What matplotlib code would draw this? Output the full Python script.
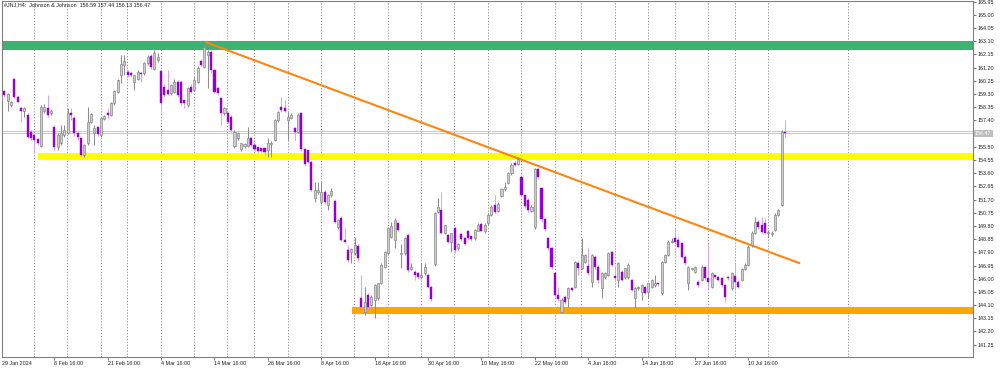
#!/usr/bin/env python

import matplotlib as mpl
mpl.use('Agg')
import matplotlib.pyplot as plt
import matplotlib.transforms as mtransforms
import numpy as np

# JNJ H4 candles (bar 0 = 29 Jan 2024)
opens = [158.9, 159.5, 158.8, 158.5, 160.36, 159.11, 158.32, 158.08, 157.79, 156.59,
         156.35, 156.04, 155.56, 158.1, 158.3, 157.9, 156.95, 155.51, 155.75, 156.35,
         156.47, 157.96, 157.55, 156.47, 156.11, 154.91, 155.75, 157.31, 156.47, 156.9,
         156.35, 157.5, 157.96, 157.79, 158.63, 159.47, 160.67, 161.39, 160.91, 160.79,
         160.19, 160.36, 160.84, 160.79, 161.51, 162.04, 161.08, 161.75, 160.98, 159.83,
         159.6, 159.35, 159.47, 160.19, 160.19, 158.87, 158.51, 159.83, 159.59, 160.19,
         161.7, 161.27, 162.11, 162.3, 161.03, 159.71, 158.99, 157.91, 157.91, 157.67,
         155.56, 156.11, 155.32, 155.56, 155.56, 156.11, 155.63, 155.46, 155.39, 155.39,
         155.27, 155.7, 155.99, 157.43, 158.39, 158.32, 157.43, 157.6, 156.83, 156.59,
         157.96, 155.32, 155.27, 154.43, 151.79, 152.27, 151.55, 152.27, 151.31, 152.03,
         151.6, 149.75, 150.35, 148.79, 148.07, 147.95, 147.83, 148.36, 144.59, 143.63,
         144.83, 144.11, 144.47, 144.59, 145.67, 146.87, 147.83, 149.03, 148.79, 149.99,
         147.75, 147.83, 149.15, 146.68, 146.51, 146.39, 146.1, 146.39, 146.27, 145.43,
         147.06, 150.83, 150.95, 149.32, 149.15, 148.67, 149.63, 148.19, 149.22, 148.91,
         149.46, 149.08, 148.91, 149.46, 149.94, 149.46, 149.99, 150.59, 151.31, 150.9,
         151.96, 152.44, 152.87, 153.59, 154.31, 154.26, 153.3, 152.03, 151.67, 150.9,
         149.7, 153.88, 152.51, 150.28, 148.91, 148.19, 146.44, 144.83, 143.63, 144.67,
         144.59, 145.31, 145.43, 147.16, 146.75, 147.23, 146.92, 145.79, 147.59, 146.87,
         145.31, 146.15, 146.27, 147.95, 146.2, 145.91, 146.51, 146.15, 146.15, 145.91,
         144.59, 145.31, 145.07, 145.43, 145.07, 145.43, 145.55, 145.67, 144.95, 147.23,
         147.71, 148.67, 148.91, 148.79, 148.55, 147.59, 145.67, 146.68, 146.51, 145.79,
         145.91, 146.87, 146.03, 145.43, 146.27, 146.15, 146.03, 145.55, 146.15, 145.31,
         146.2, 145.79, 145.91, 146.68, 146.99, 148.43, 149.27, 150.11, 149.87, 149.99,
         149.27, 149.22, 149.51, 150.59, 151.31, 156.59]
highs = [159.6, 159.6, 159.4, 158.8, 160.48, 159.2, 158.4, 158.35, 157.9, 156.7,
         156.4, 156.1, 158.51, 158.6, 159.23, 158.2, 157.1, 156.5, 157.07, 157.07,
         158.27, 158.27, 157.7, 156.59, 156.2, 155.7, 158.39, 157.9, 157.07, 157.0,
         157.6, 157.8, 158.27, 158.7, 159.6, 160.4, 162.11, 162.11, 161.0, 160.9,
         160.7, 161.0, 160.9, 161.6, 162.1, 162.2, 162.47, 162.23, 161.1, 160.0,
         161.0, 160.0, 160.4, 160.3, 160.3, 158.9, 159.8, 160.0, 160.5, 161.3,
         161.8, 162.9, 162.5, 162.5, 161.1, 159.8, 159.1, 158.4, 158.0, 157.8,
         156.7, 156.6, 155.8, 155.8, 156.95, 156.2, 155.7, 155.5, 155.4, 155.4,
         156.11, 155.9, 157.5, 158.1, 159.11, 158.87, 158.03, 157.9, 156.9, 157.9,
         158.0, 155.4, 155.3, 154.5, 152.99, 152.99, 152.99, 152.4, 152.1, 152.5,
         151.7, 150.3, 150.5, 149.63, 148.4, 148.2, 149.03, 148.5, 146.27, 145.43,
         145.0, 144.8, 145.6, 145.7, 147.1, 148.0, 149.7, 150.1, 150.35, 150.1,
         148.5, 149.0, 149.2, 147.11, 146.6, 146.5, 147.11, 147.11, 146.4, 145.5,
         150.8, 151.79, 152.27, 149.9, 149.2, 149.3, 149.7, 148.6, 149.3, 149.0,
         149.5, 149.1, 149.6, 149.99, 150.0, 150.0, 150.7, 151.3, 152.03, 151.5,
         152.5, 152.99, 153.7, 154.3, 154.5, 154.8, 153.4, 152.1, 151.8, 151.3,
         154.0, 154.0, 152.6, 150.4, 149.0, 148.3, 146.5, 145.4, 144.6, 144.8,
         145.4, 145.4, 147.3, 147.3, 148.91, 147.8, 148.19, 147.8, 147.7, 147.0,
         146.5, 146.5, 147.9, 148.0, 147.0, 147.2, 146.6, 146.8, 147.11, 146.0,
         145.4, 145.5, 145.6, 145.5, 145.7, 146.0, 146.27, 145.7, 147.3, 147.8,
         148.8, 148.9, 149.63, 149.03, 148.6, 147.7, 146.9, 146.8, 146.9, 145.9,
         146.99, 146.9, 148.55, 146.5, 146.3, 146.2, 146.1, 145.6, 146.2, 146.5,
         147.11, 145.9, 146.8, 147.1, 148.4, 149.4, 150.47, 150.2, 150.47, 150.35,
         149.5, 149.4, 150.7, 151.0, 156.7, 157.44]
lows = [158.6, 159.1, 158.1, 158.4, 159.0, 158.7, 157.31, 157.67, 156.1, 156.0,
        155.15, 155.6, 155.51, 157.9, 157.67, 157.8, 155.27, 155.3, 155.6, 156.2,
        156.4, 157.43, 156.3, 155.99, 154.8, 154.79, 155.6, 157.2, 155.63, 156.3,
        156.2, 157.4, 157.55, 157.7, 158.5, 159.4, 160.07, 160.67, 160.5, 160.5,
        159.59, 160.3, 160.19, 160.7, 161.4, 161.1, 161.0, 161.6, 158.15, 159.1,
        159.2, 159.2, 159.4, 159.1, 158.5, 158.27, 158.39, 159.4, 159.5, 160.1,
        161.3, 161.2, 159.71, 160.8, 159.4, 159.2, 157.07, 157.8, 157.2, 156.59,
        155.4, 156.0, 155.2, 155.4, 155.5, 155.5, 155.2, 155.1, 155.1, 154.91,
        154.79, 154.74, 155.9, 157.3, 158.0, 158.0, 155.99, 157.5, 155.99, 156.5,
        155.2, 154.1, 154.3, 152.3, 151.55, 152.1, 151.4, 151.4, 150.95, 151.9,
        150.0, 149.6, 148.7, 148.6, 147.2, 147.1, 147.7, 147.3, 143.9, 143.39,
        143.8, 144.0, 143.15, 144.5, 145.6, 146.8, 147.7, 148.9, 148.19, 149.4,
        146.75, 147.7, 146.5, 146.6, 145.91, 146.0, 146.0, 146.3, 145.3, 144.4,
        146.9, 150.7, 149.2, 149.2, 148.6, 147.95, 147.83, 148.1, 148.7, 148.4,
        148.8, 148.7, 148.8, 149.4, 149.4, 149.3, 149.9, 150.5, 150.7, 150.8,
        151.9, 152.3, 152.8, 153.5, 154.1, 154.2, 151.9, 151.1, 150.8, 150.8,
        149.6, 153.2, 150.1, 149.4, 148.1, 146.7, 144.7, 144.4, 143.56, 144.2,
        143.99, 145.1, 145.3, 146.3, 146.7, 147.1, 146.3, 145.43, 146.7, 145.67,
        144.59, 146.0, 146.2, 146.9, 145.9, 145.43, 145.8, 146.0, 146.0, 145.1,
        143.87, 145.2, 144.47, 144.9, 144.59, 145.3, 145.4, 145.5, 144.8, 147.1,
        147.6, 148.6, 148.6, 148.2, 147.5, 147.0, 145.19, 146.6, 146.4, 145.4,
        145.8, 145.9, 145.19, 145.3, 146.0, 145.8, 145.4, 144.35, 145.9, 145.2,
        145.19, 145.3, 145.8, 146.6, 146.9, 148.3, 149.2, 149.6, 149.3, 149.2,
        149.03, 149.1, 149.4, 150.5, 151.2, 156.13]
closes = [159.5, 159.2, 159.3, 158.75, 159.11, 158.75, 158.1, 158.27, 156.23, 156.11,
          155.99, 155.75, 158.39, 158.4, 157.8, 158.1, 155.51, 156.35, 156.47, 156.71,
          157.96, 157.79, 156.47, 156.23, 154.91, 155.63, 157.31, 157.86, 156.83, 156.4,
          157.55, 157.7, 157.79, 158.63, 159.54, 160.31, 161.46, 161.7, 160.67, 160.67,
          160.67, 160.91, 160.72, 161.51, 161.99, 161.27, 162.23, 161.99, 158.63, 159.23,
          159.3, 159.95, 160.19, 159.23, 158.63, 158.63, 159.71, 159.47, 160.31, 161.15,
          161.39, 162.71, 162.35, 161.0, 159.47, 159.35, 157.91, 158.27, 157.31, 156.71,
          156.59, 156.47, 155.75, 155.7, 156.11, 155.63, 155.32, 155.22, 155.22, 155.15,
          155.75, 155.8, 157.43, 158.03, 158.15, 158.1, 157.67, 157.79, 156.59, 157.79,
          155.32, 154.26, 154.43, 152.39, 152.39, 152.39, 152.27, 151.55, 152.03, 152.35,
          150.11, 150.23, 148.79, 148.67, 147.35, 148.11, 148.43, 147.47, 143.99, 144.35,
          143.99, 144.71, 145.55, 145.67, 146.99, 147.95, 149.63, 149.8, 150.23, 149.51,
          147.85, 148.91, 146.63, 146.87, 146.27, 146.15, 146.27, 146.87, 145.43, 144.52,
          150.71, 151.19, 149.32, 149.87, 148.67, 149.27, 148.07, 148.5, 148.84, 148.5,
          148.91, 148.84, 149.51, 149.87, 149.46, 149.87, 150.59, 151.19, 150.83, 151.38,
          152.44, 152.63, 153.59, 154.19, 154.19, 154.6, 152.03, 151.24, 150.95, 151.19,
          153.88, 153.35, 150.28, 149.56, 148.19, 146.87, 144.83, 144.52, 144.47, 144.35,
          145.31, 145.19, 147.23, 146.75, 147.71, 147.71, 146.44, 147.71, 146.87, 145.91,
          146.39, 146.39, 147.83, 146.99, 146.03, 147.11, 145.91, 146.75, 146.99, 145.19,
          145.31, 145.39, 145.55, 144.99, 145.67, 145.91, 145.72, 145.62, 147.23, 147.71,
          148.67, 148.72, 148.67, 148.31, 147.59, 147.11, 146.87, 146.75, 146.87, 145.55,
          146.87, 146.03, 145.79, 146.39, 146.15, 145.91, 145.55, 144.71, 146.03, 146.39,
          145.79, 145.43, 146.68, 146.99, 148.31, 149.32, 150.11, 149.75, 149.39, 149.32,
          149.39, 149.32, 150.59, 150.95, 156.59, 156.47]

# date labels every 16 bars
tick_bars = [16, 32, 48, 64, 80, 96, 112, 128, 144, 160, 176, 192, 208, 224]
tick_labels = ['8 Feb 16:00', '21 Feb 16:00', '4 Mar 16:00', '14 Mar 16:00',
               '26 Mar 16:00', '8 Apr 16:00', '18 Apr 16:00', '30 Apr 16:00',
               '10 May 16:00', '22 May 16:00', '4 Jun 16:00', '14 Jun 16:00',
               '27 Jun 16:00', '10 Jul 16:00']
first_label = '29 Jan 2024'
# weekly separators (bar index)
week_bars = [10, 20, 30, 38, 48, 58, 68, 76, 86, 96, 106, 116, 126, 136, 146,
             156, 166, 174, 184, 194, 202, 212, 220, 230, 254]
price_ticks = [165.95, 165.00, 164.05, 163.10, 162.15, 161.20, 160.25, 159.30,
               158.35, 157.40, 156.45, 155.50, 154.55, 153.60, 152.65, 151.70,
               150.75, 149.80, 148.85, 147.90, 146.95, 146.00, 145.05, 144.10,
               143.15, 142.20, 141.25]

# drawn objects
green_zone = [162.45, 163.10]
yellow_zone = [154.55, 155.05]
yellow_from = 11.1
orange_zone = [143.45, 143.95]
orange_from = 105.2
trend_bars = [61.2, 239.5]
trend_prices = [163.05, 147.1]
bid, ask = 156.47, 156.64
header = '#JNJ,H4:  Johnson & Johnson  156.59 157.44 156.13 156.47'


def load_style():
    mpl.rc('font', family=['Liberation Sans', 'DejaVu Sans'], size=3.9)
    mpl.rc('axes', linewidth=0.8, edgecolor='#808080')
    mpl.rc('xtick', labelsize=3.9, color='#606060', labelcolor='#202020')
    mpl.rc('ytick', labelsize=3.9, color='#606060', labelcolor='#202020')
    mpl.rc('figure', facecolor='white')


def candle_chart():
    fig = plt.figure(figsize=(10, 3.68), dpi=100)
    ax = fig.add_axes([0.002, 11 / 368, 0.971, 356 / 368])

    o = np.array(opens)
    h = np.array(highs)
    l = np.array(lows)
    c = np.array(closes)
    x = np.arange(len(o))
    up = c >= o

    # weekly separators
    for b in week_bars:
        ax.axvline(b - 0.1, color='#8c8c8c', lw=0.7, ls=(0, (1.2, 1.8)), zorder=1)

    # zones
    right = 400
    ax.fill_between([-5, right], green_zone[0], green_zone[1], color='#3cb371', lw=0, zorder=2)
    ax.fill_between([yellow_from, right], yellow_zone[0], yellow_zone[1], color='#ffff00', lw=0, zorder=2)
    ax.fill_between([orange_from, right], orange_zone[0], orange_zone[1], color='#ffa500', lw=0, zorder=2)

    # bid / ask
    ax.axhline(bid, color='#c8c8c8', lw=0.7, zorder=2)
    ax.axhline(ask, color='#c8c8c8', lw=0.7, zorder=2)

    # trend line
    ax.plot(trend_bars, trend_prices, color='#ff8410', lw=1.5, zorder=3,
            solid_capstyle='butt')

    # wicks
    ax.vlines(x[up], l[up], h[up], colors='#8c8c8c', lw=0.75, zorder=4)
    ax.vlines(x[~up], l[~up], h[~up], colors='#d9a3f0', lw=0.75, zorder=4)

    # bodies
    body = np.maximum(np.abs(c - o), 0.05)
    ax.bar(x[up], body[up], bottom=np.minimum(o, c)[up], width=0.62,
           color='#cdcdcd', edgecolor='#8a8a8a', linewidth=0.5, zorder=5)
    ax.bar(x[~up], body[~up], bottom=np.minimum(o, c)[~up], width=0.62,
           color='#9400d3', edgecolor='#9400d3', linewidth=0.3, zorder=5)

    ax.set_xlim(0.33, 291.3)
    ax.set_ylim(140.36, 166.0)

    # the current price tag covers the 156.45 level on the scale
    ax.yaxis.tick_right()
    ax.set_yticks(price_ticks)
    ax.set_yticklabels(['' if abs(p - bid) < 0.3 else '%.2f' % p for p in price_ticks])
    ax.tick_params(axis='y', direction='out', length=2, width=0.6, pad=1)

    ax.set_xticks(tick_bars)
    ax.set_xticklabels(tick_labels, ha='left')
    ax.tick_params(axis='x', direction='out', length=2, width=0.6, pad=1)
    ax.text(0.0, -0.012, first_label, transform=ax.transAxes, ha='left',
            va='top', fontsize=3.9, color='#202020')

    # current price tag on the scale
    trans = mtransforms.blended_transform_factory(ax.transAxes, ax.transData)
    ax.text(1.002, bid, '%.2f' % bid, transform=trans, ha='left', va='center',
            fontsize=3.9, color='white', zorder=10, clip_on=False,
            bbox=dict(facecolor='#bdbdbd', edgecolor='none', pad=0.8))

    fig.text(0.004, 1 - 4.5 / 368, header, ha='left', va='center',
             fontsize=3.9, color='#202020')

    fig.savefig('out.png', dpi=100)


if __name__ == '__main__':
    load_style()
    candle_chart()
